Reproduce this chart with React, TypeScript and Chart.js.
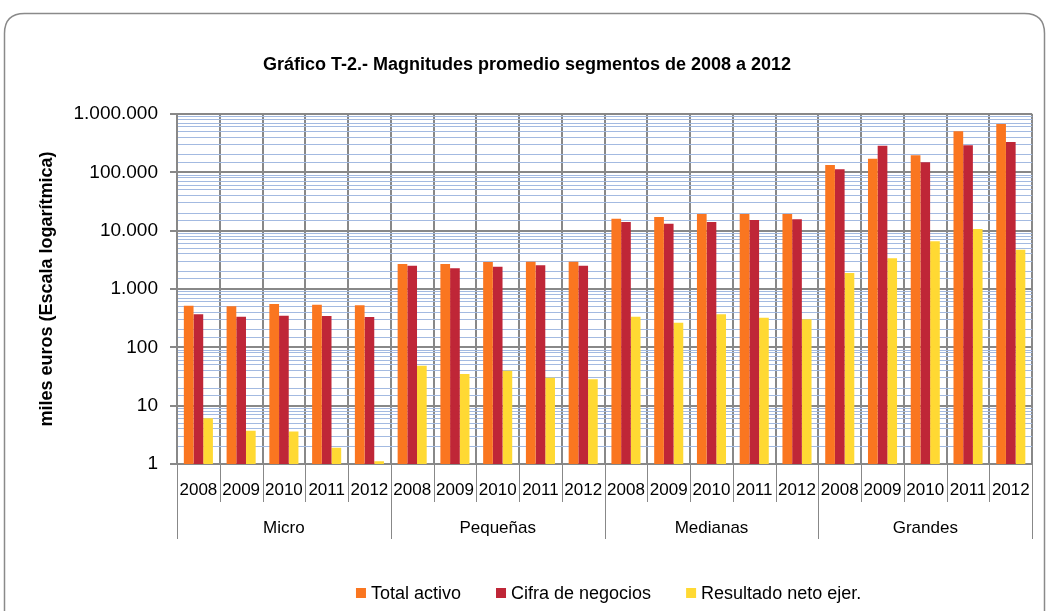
import React, { useEffect, useRef } from 'react';
import { Chart, registerables } from 'chart.js';

Chart.register(...registerables);

// ---- data ----
const years = ['2008', '2009', '2010', '2011', '2012'];
const groups = ['Micro', 'Pequeñas', 'Medianas', 'Grandes'];
const categoryLabels = groups.flatMap(() => years);

const totalActivo = [
  518, 505, 553, 538, 525,
  2685, 2685, 2900, 2940, 2940,
  16070, 17150, 19300, 19300, 19300,
  133600, 171600, 195500, 505000, 674000,
];
const cifraNegocios = [
  368, 335, 349, 345, 331,
  2510, 2265, 2415, 2545, 2510,
  14090, 13190, 14090, 15250, 15640,
  112600, 286000, 148400, 290000, 331000,
];
const resultadoNeto = [
  6.1, 3.7, 3.6, 1.9, 1.12,
  48.5, 34.9, 39.8, 30, 28.3,
  335, 265, 368, 323, 302,
  1880, 3360, 6560, 10690, 4720,
];

const yTickLabels = ['1', '10', '100', '1.000', '10.000', '100.000', '1.000.000'];
const seriesNames = ['Total activo', 'Cifra de negocios', 'Resultado neto ejer.'];
const chartTitle = 'Gráfico T-2.- Magnitudes promedio segmentos de 2008 a 2012';
const yAxisTitle = 'miles euros (Escala logarítmica)';

// ---- styles ----
const seriesColors = ['#FA7620', '#BF2637', '#FFD933'];
const FONT = '"Liberation Sans", Arial, sans-serif';
const GRAY = '#888888';
const MINOR = '#A3BAE1';

const isDecade = (v: number) => {
  const l = Math.log10(v);
  return Math.abs(l - Math.round(l)) < 1e-9;
};

const decorPlugin = {
  id: 'decor',
  beforeDraw(chart: any) {
    const ctx = chart.ctx;
    ctx.save();
    ctx.strokeStyle = '#8A8A8A';
    ctx.lineWidth = 1.5;
    const x0 = 4.5, y0 = 13.5, x1 = 1044.5, y1 = 720, r = 20;
    ctx.beginPath();
    ctx.moveTo(x0 + r, y0);
    ctx.lineTo(x1 - r, y0);
    ctx.quadraticCurveTo(x1, y0, x1, y0 + r);
    ctx.lineTo(x1, y1);
    ctx.lineTo(x0, y1);
    ctx.lineTo(x0, y0 + r);
    ctx.quadraticCurveTo(x0, y0, x0 + r, y0);
    ctx.stroke();
    ctx.restore();
  },
  afterDraw(chart: any) {
    const ctx = chart.ctx;
    const xs = chart.scales.x;
    const ca = chart.chartArea;
    const n = categoryLabels.length;
    const step = xs.getPixelForValue(1) - xs.getPixelForValue(0);
    const edge = (i: number) => (i < n ? xs.getPixelForValue(i) - step / 2 : xs.getPixelForValue(n - 1) + step / 2);
    ctx.save();
    // separators below axis
    ctx.strokeStyle = GRAY;
    ctx.lineWidth = 1;
    for (let i = 0; i <= n; i++) {
      const bx = Math.round(edge(i)) + 0.5;
      const y2 = i % years.length === 0 ? ca.bottom + 75 : ca.bottom + 38;
      ctx.beginPath();
      ctx.moveTo(bx, ca.bottom);
      ctx.lineTo(bx, y2);
      ctx.stroke();
    }
    // group labels
    ctx.fillStyle = '#000';
    ctx.font = `17px ${FONT}`;
    ctx.textAlign = 'center';
    ctx.textBaseline = 'middle';
    groups.forEach((g, gi) => {
      const cx = (edge(gi * years.length) + edge((gi + 1) * years.length)) / 2;
      ctx.fillText(g, cx, ca.bottom + 64);
    });
    // legend
    ctx.font = `18px ${FONT}`;
    ctx.textAlign = 'left';
    const box = 10, gapText = 5, gapItem = 35;
    const widths = seriesNames.map((s) => ctx.measureText(s).width);
    const total = widths.reduce((a, w) => a + box + gapText + w, 0) + gapItem * (seriesNames.length - 1);
    let lx = (ca.left + ca.right) / 2 - total / 2 + 4;
    const ly = 593;
    seriesNames.forEach((s, i) => {
      ctx.fillStyle = seriesColors[i];
      ctx.fillRect(lx, ly - box / 2, box, box);
      ctx.fillStyle = '#000';
      ctx.fillText(s, lx + box + gapText, ly + 1);
      lx += box + gapText + widths[i] + gapItem;
    });
    ctx.restore();
  },
};

export default function App() {
  const canvasRef = useRef<HTMLCanvasElement | null>(null);

  useEffect(() => {
    if (!canvasRef.current) return;
    const datasets = [totalActivo, cifraNegocios, resultadoNeto].map((d, i) => ({
      label: seriesNames[i],
      data: d,
      backgroundColor: seriesColors[i],
      borderWidth: 0,
      categoryPercentage: 0.68,
      barPercentage: 1.0,
    }));
    const chart = new Chart(canvasRef.current, {
      type: 'bar',
      data: { labels: categoryLabels, datasets },
      plugins: [decorPlugin],
      options: {
        animation: false,
        responsive: true,
        maintainAspectRatio: false,
        layout: { padding: { top: 54, left: 20, right: 12, bottom: 62 } },
        plugins: {
          legend: { display: false },
          tooltip: { enabled: false },
          title: {
            display: true,
            text: chartTitle,
            color: '#000',
            font: { family: FONT, size: 18, weight: 'bold', lineHeight: 1.2 },
            padding: { top: 0, bottom: 38.4 },
          },
        },
        scales: {
          x: {
            type: 'category',
            offset: true,
            grid: { display: true, offset: true, color: GRAY, lineWidth: 2, drawTicks: false },
            border: { display: true, color: GRAY, width: 2 },
            ticks: {
              color: '#000',
              font: { family: FONT, size: 17 },
              padding: 16,
              maxRotation: 0,
              autoSkip: false,
            },
            afterFit: (s: any) => {
              s.height = 85;
            },
          },
          y: {
            type: 'logarithmic',
            min: 1,
            max: 1000000,
            grid: {
              color: (c: any) => (c.tick && isDecade(c.tick.value) ? GRAY : MINOR),
              lineWidth: (c: any) => (c.tick && isDecade(c.tick.value) ? 2 : 1),
              tickColor: (c: any) => (c.tick && isDecade(c.tick.value) ? GRAY : 'rgba(0,0,0,0)'),
              tickLength: 7,
            },
            border: { display: true, color: GRAY, width: 2 },
            ticks: {
              autoSkip: false,
              color: '#000',
              font: { family: FONT, size: 19 },
              padding: 12,
              callback: (v: any) => {
                const val = Number(v);
                if (!isDecade(val)) return '';
                const idx = Math.round(Math.log10(val));
                return yTickLabels[idx] ?? '';
              },
            },
            title: {
              display: true,
              text: yAxisTitle,
              color: '#000',
              font: { family: FONT, size: 18, weight: 'bold', lineHeight: 1.2 },
              padding: { top: 16, bottom: 0 },
            },
            afterFit: (s: any) => {
              s.width = 157;
            },
          },
        },
      } as any,
    });
    return () => chart.destroy();
  }, []);

  return (
    <div style={{ position: 'absolute', left: 0, top: 0, width: 1046, height: 611, background: '#fff' }}>
      <canvas ref={canvasRef} />
    </div>
  );
}
